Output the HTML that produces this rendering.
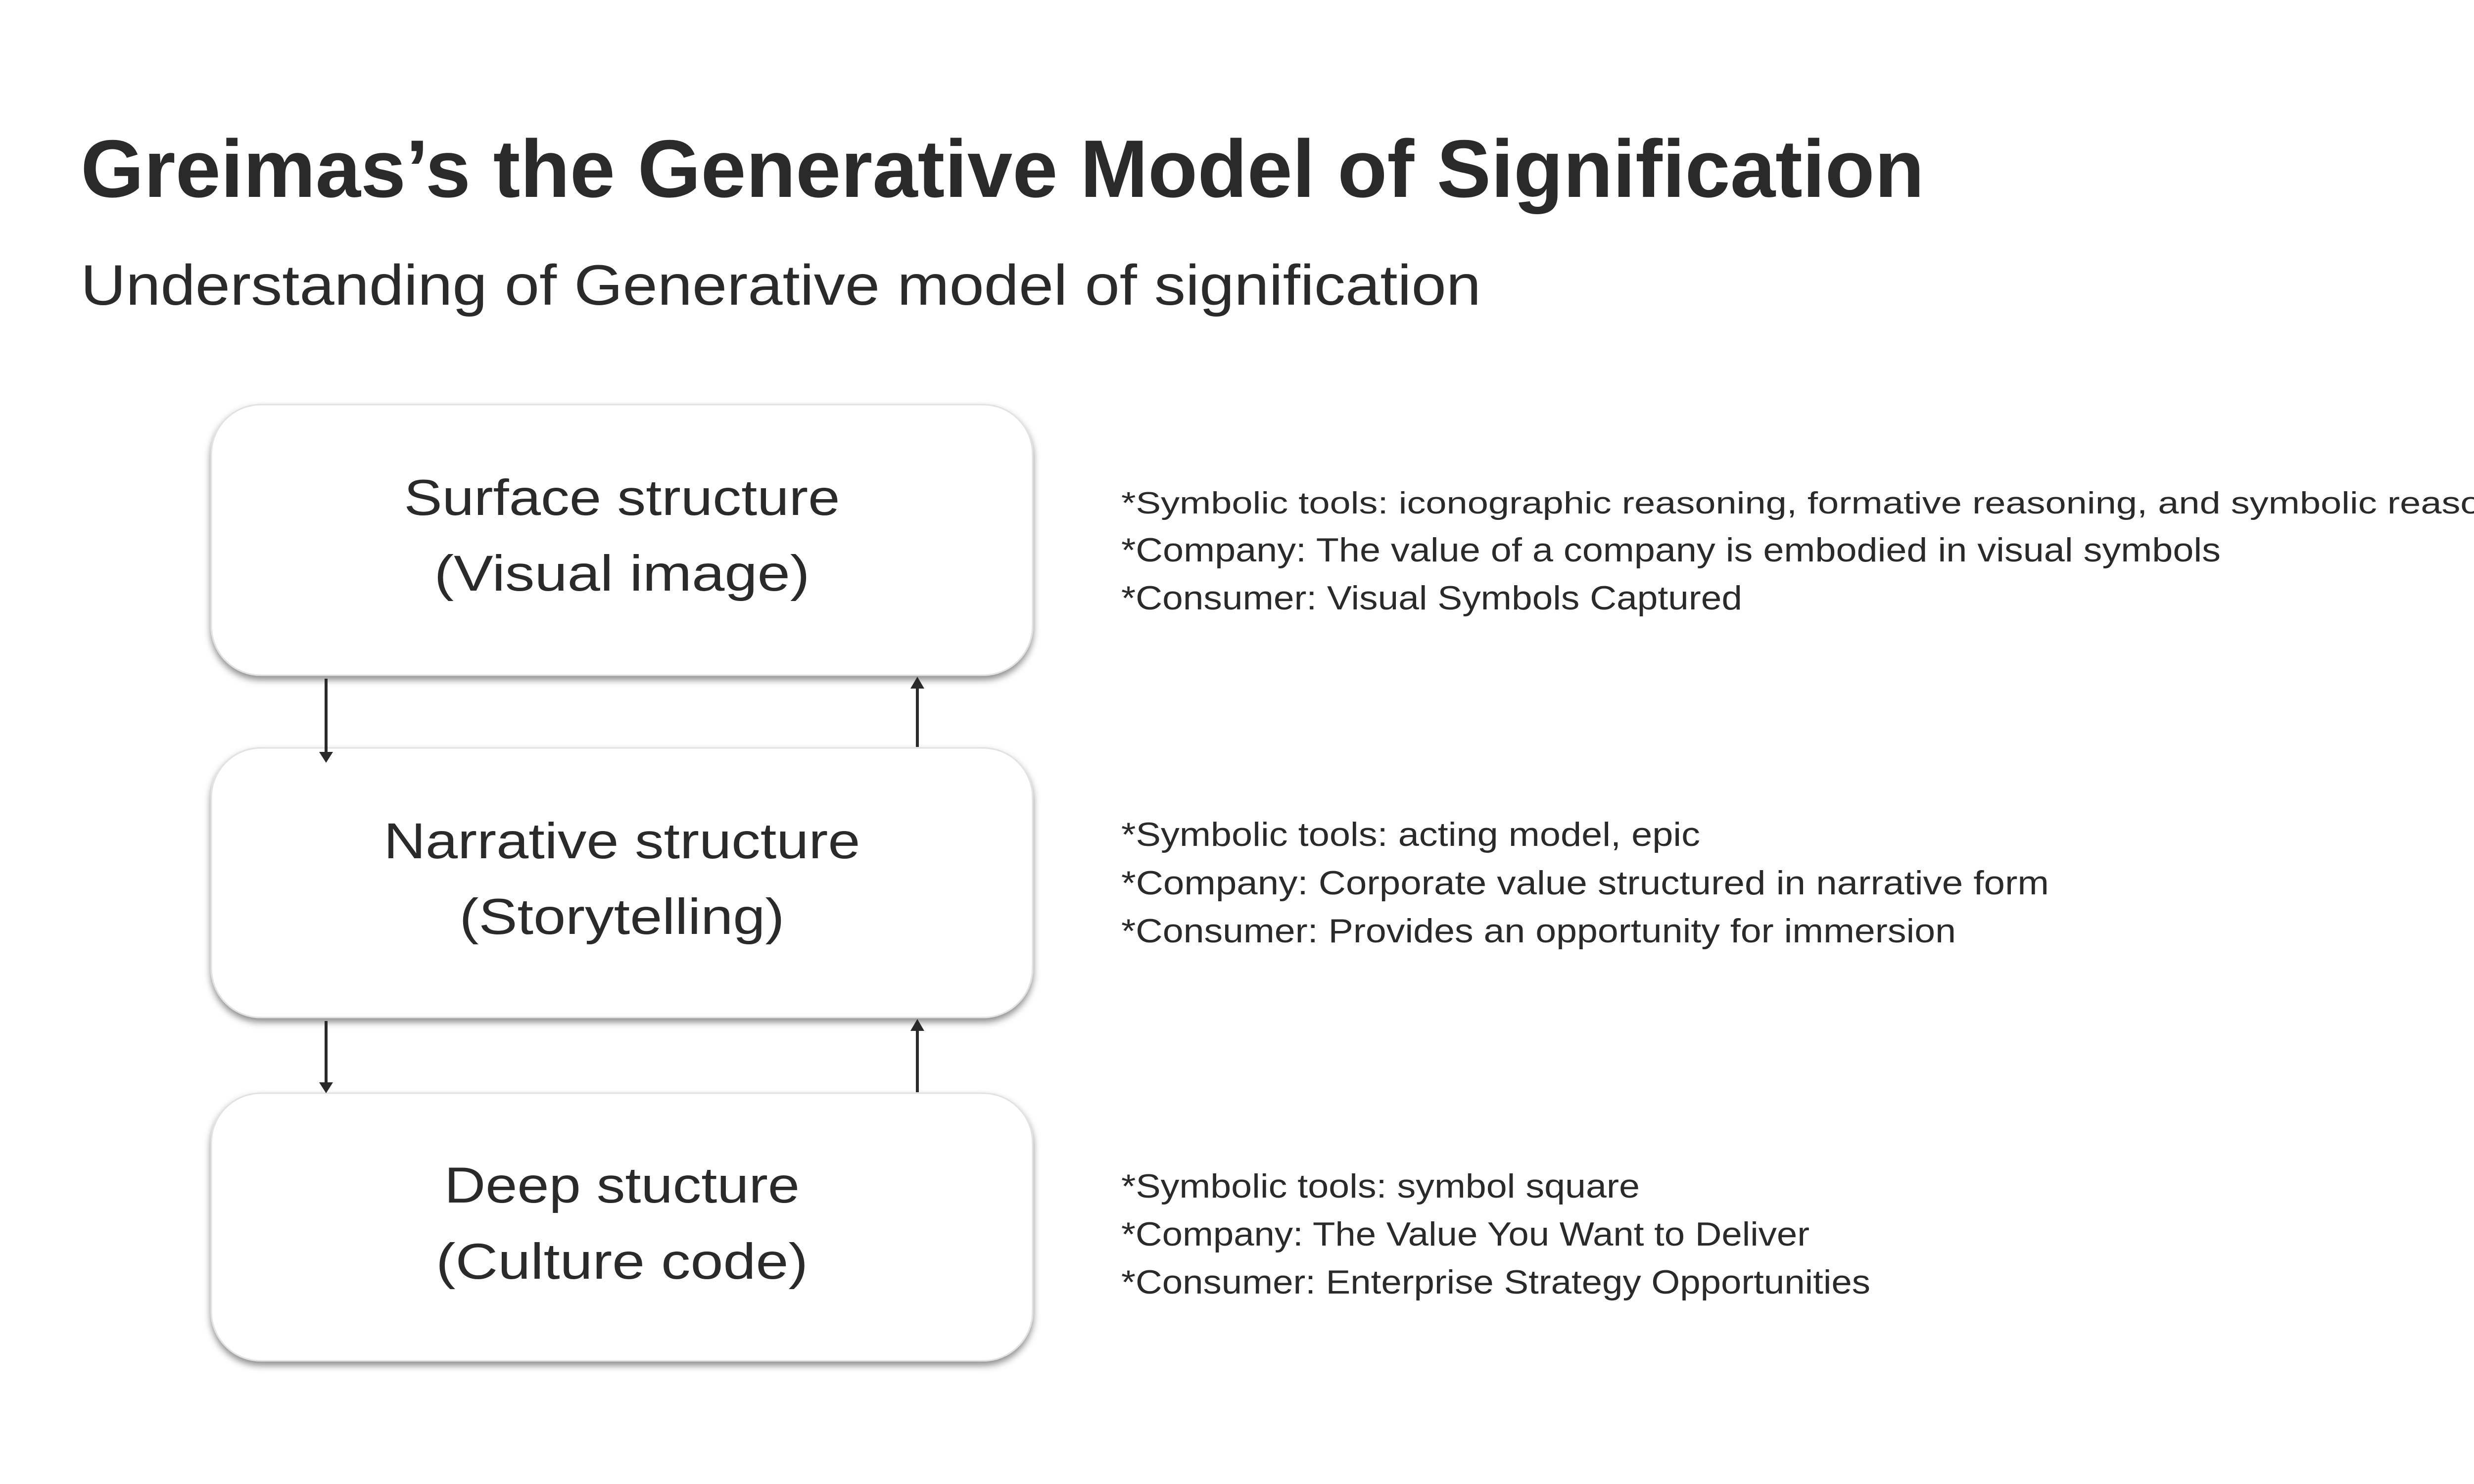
<!DOCTYPE html>
<html><head><meta charset="utf-8"><style>
html,body{margin:0;padding:0;background:#fff;overflow:hidden;}
svg{display:block;}
text{font-family:"Liberation Sans",sans-serif;fill:#2a2a2a;}
</style></head><body>
<svg width="5334" height="3000" viewBox="0 0 5334 3000" xmlns="http://www.w3.org/2000/svg">
<defs>
<filter id="sh" x="-10%" y="-10%" width="120%" height="130%">
<feDropShadow dx="0" dy="8" stdDeviation="7" flood-color="#000" flood-opacity="0.45"/>
</filter>
</defs>
<rect width="5334" height="3000" fill="#fff"/>
<text x="163" y="398" font-size="165" font-weight="bold" textLength="3726" lengthAdjust="spacingAndGlyphs">Greimas’s the Generative Model of Signification</text>
<text x="163" y="616" font-size="115" textLength="2830" lengthAdjust="spacingAndGlyphs">Understanding of Generative model of signification</text>

<g fill="#fff" stroke="#e2e2e2" stroke-width="3" filter="url(#sh)">
<rect x="427" y="818" width="1660" height="547" rx="100"/>
<rect x="427" y="1512" width="1660" height="545" rx="100"/>
<rect x="427" y="2210" width="1660" height="541" rx="100"/>
</g>

<g stroke="#2a2a2a" stroke-width="6">
<line x1="659" y1="1372" x2="659" y2="1522"/>
<line x1="1854" y1="1510" x2="1854" y2="1390"/>
<line x1="659" y1="2064" x2="659" y2="2190"/>
<line x1="1854" y1="2208" x2="1854" y2="2082"/>
</g>
<g fill="#2a2a2a">
<polygon points="645,1520 673,1520 659,1542"/>
<polygon points="1840,1392 1868,1392 1854,1368"/>
<polygon points="645,2188 673,2188 659,2210"/>
<polygon points="1840,2084 1868,2084 1854,2060"/>
</g>

<g font-size="102" text-anchor="middle">
<text x="1257" y="1041" textLength="881" lengthAdjust="spacingAndGlyphs">Surface structure</text>
<text x="1257" y="1194" textLength="759" lengthAdjust="spacingAndGlyphs">(Visual image)</text>
<text x="1257" y="1735" textLength="963" lengthAdjust="spacingAndGlyphs">Narrative structure</text>
<text x="1257" y="1888" textLength="657" lengthAdjust="spacingAndGlyphs">(Storytelling)</text>
<text x="1257" y="2431" textLength="718" lengthAdjust="spacingAndGlyphs">Deep stucture</text>
<text x="1257" y="2585" textLength="752" lengthAdjust="spacingAndGlyphs">(Culture code)</text>
</g>

<g font-size="68">
<text x="2266" y="1038" font-size="62" textLength="2892" lengthAdjust="spacingAndGlyphs">*Symbolic tools: iconographic reasoning, formative reasoning, and symbolic reasoning</text>
<text x="2266" y="1135" textLength="2222" lengthAdjust="spacingAndGlyphs">*Company: The value of a company is embodied in visual symbols</text>
<text x="2266" y="1232" textLength="1255" lengthAdjust="spacingAndGlyphs">*Consumer: Visual Symbols Captured</text>
<text x="2266" y="1710" textLength="1170" lengthAdjust="spacingAndGlyphs">*Symbolic tools: acting model, epic</text>
<text x="2266" y="1808" textLength="1875" lengthAdjust="spacingAndGlyphs">*Company: Corporate value structured in narrative form</text>
<text x="2266" y="1905" textLength="1687" lengthAdjust="spacingAndGlyphs">*Consumer: Provides an opportunity for immersion</text>
<text x="2266" y="2421" textLength="1048" lengthAdjust="spacingAndGlyphs">*Symbolic tools: symbol square</text>
<text x="2266" y="2518" textLength="1391" lengthAdjust="spacingAndGlyphs">*Company: The Value You Want to Deliver</text>
<text x="2266" y="2615" textLength="1514" lengthAdjust="spacingAndGlyphs">*Consumer: Enterprise Strategy Opportunities</text>
</g>
</svg>
</body></html>
